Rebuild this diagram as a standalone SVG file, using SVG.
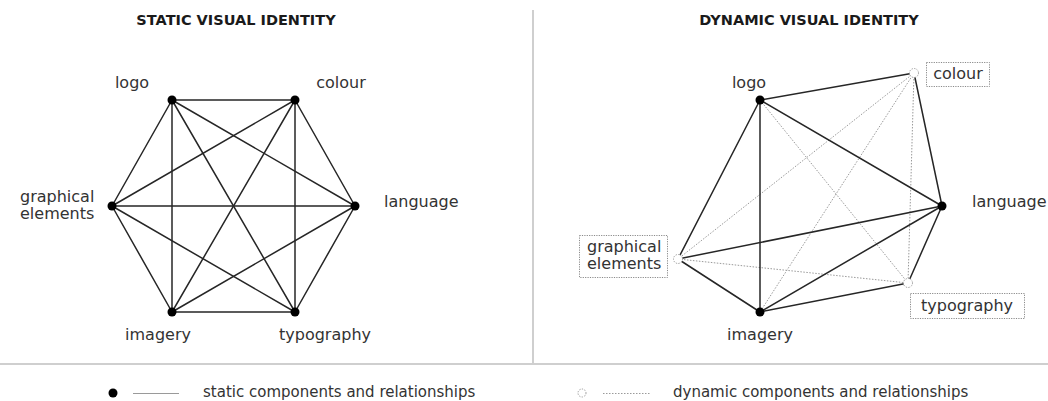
<svg xmlns="http://www.w3.org/2000/svg" width="1048" height="401" viewBox="0 0 1048 401">
  <style>
    .title { font-family: "DejaVu Sans", "Liberation Sans", sans-serif; font-weight: bold; font-size: 14.5px; fill: #1a1a1a; }
    .lbl { font-family: "DejaVu Sans", "Liberation Sans", sans-serif; font-size: 16px; fill: #333; }
    .leg { font-family: "DejaVu Sans", "Liberation Sans", sans-serif; font-size: 15px; fill: #333; }
    .rule { stroke: #cfcfcf; stroke-width: 2; fill: none; }
    .solid { stroke: #262626; stroke-width: 1.5; fill: none; stroke-linecap: round; }
    .dotted { stroke: #9a9a9a; stroke-width: 1; fill: none; stroke-dasharray: 1.5 1.5; }
    .dot { fill: #000; }
    .hollow { fill: #fff; stroke: #9a9a9a; stroke-width: 1; stroke-dasharray: 1.3 1.3; }
    .box { fill: #fff; stroke: #8a8a8a; stroke-width: 1; stroke-dasharray: 1.2 1.2; }
  </style>

  <rect width="1048" height="401" fill="#fff"/>

  <!-- frame rules -->
  <line class="rule" x1="533" y1="10" x2="533" y2="364"/>
  <line class="rule" x1="0" y1="364" x2="1048" y2="364"/>

  <!-- headings -->
  <text class="title" x="236" y="25" text-anchor="middle">STATIC VISUAL IDENTITY</text>
  <text class="title" x="809" y="25" text-anchor="middle">DYNAMIC VISUAL IDENTITY</text>

  <!-- static identity: every component linked to every other -->
  <g id="static-connectors">
    <line class="solid" x1="172" y1="100" x2="295" y2="100"/>
    <line class="solid" x1="172" y1="100" x2="112" y2="206"/>
    <line class="solid" x1="172" y1="100" x2="355" y2="206"/>
    <line class="solid" x1="172" y1="100" x2="172" y2="312"/>
    <line class="solid" x1="172" y1="100" x2="295" y2="312"/>
    <line class="solid" x1="295" y1="100" x2="112" y2="206"/>
    <line class="solid" x1="295" y1="100" x2="355" y2="206"/>
    <line class="solid" x1="295" y1="100" x2="172" y2="312"/>
    <line class="solid" x1="295" y1="100" x2="295" y2="312"/>
    <line class="solid" x1="112" y1="206" x2="355" y2="206"/>
    <line class="solid" x1="112" y1="206" x2="172" y2="312"/>
    <line class="solid" x1="112" y1="206" x2="295" y2="312"/>
    <line class="solid" x1="355" y1="206" x2="172" y2="312"/>
    <line class="solid" x1="355" y1="206" x2="295" y2="312"/>
    <line class="solid" x1="172" y1="312" x2="295" y2="312"/>
  </g>

  <g id="s-logo">
    <circle class="dot" cx="172" cy="100" r="4.5"/>
    <text class="lbl" x="132" y="88" text-anchor="middle">logo</text>
  </g>
  <g id="s-colour">
    <circle class="dot" cx="295" cy="100" r="4.5"/>
    <text class="lbl" x="341" y="88" text-anchor="middle">colour</text>
  </g>
  <g id="s-graphical">
    <circle class="dot" cx="112" cy="206" r="4.5"/>
    <text class="lbl" x="20" y="202">graphical</text>
    <text class="lbl" x="20" y="219">elements</text>
  </g>
  <g id="s-language">
    <circle class="dot" cx="355" cy="206" r="4.5"/>
    <text class="lbl" x="384" y="207">language</text>
  </g>
  <g id="s-imagery">
    <circle class="dot" cx="172" cy="312" r="4.5"/>
    <text class="lbl" x="158" y="340" text-anchor="middle">imagery</text>
  </g>
  <g id="s-typography">
    <circle class="dot" cx="295" cy="312" r="4.5"/>
    <text class="lbl" x="325" y="340" text-anchor="middle">typography</text>
  </g>

  <!-- dynamic identity: fixed links solid, changing links dotted -->
  <g id="dynamic-connectors">
    <line class="dotted" x1="914" y1="73" x2="678" y2="259"/>
    <line class="dotted" x1="914" y1="73" x2="760" y2="312"/>
    <line class="dotted" x1="914" y1="73" x2="908" y2="283"/>
    <line class="dotted" x1="760" y1="100" x2="908" y2="283"/>
    <line class="dotted" x1="678" y1="259" x2="908" y2="283"/>
    <line class="solid" x1="760" y1="100" x2="914" y2="73"/>
    <line class="solid" x1="760" y1="100" x2="942" y2="206"/>
    <line class="solid" x1="760" y1="100" x2="760" y2="312"/>
    <line class="solid" x1="760" y1="100" x2="678" y2="259"/>
    <line class="solid" x1="914" y1="73" x2="942" y2="206"/>
    <line class="solid" x1="942" y1="206" x2="760" y2="312"/>
    <line class="solid" x1="942" y1="206" x2="678" y2="259"/>
    <line class="solid" x1="942" y1="206" x2="908" y2="283"/>
    <line class="solid" x1="760" y1="312" x2="908" y2="283"/>
    <line class="solid" x1="760" y1="312" x2="678" y2="259"/>
  </g>

  <g id="d-logo">
    <circle class="dot" cx="760" cy="100" r="4.5"/>
    <text class="lbl" x="749" y="88" text-anchor="middle">logo</text>
  </g>
  <g id="d-colour">
    <circle class="hollow" cx="914" cy="73" r="4.5"/>
    <rect class="box" x="926.5" y="62.5" width="63" height="24"/>
    <text class="lbl" x="958" y="79" text-anchor="middle">colour</text>
  </g>
  <g id="d-language">
    <circle class="dot" cx="942" cy="206" r="4.5"/>
    <text class="lbl" x="972" y="207">language</text>
  </g>
  <g id="d-graphical">
    <circle class="hollow" cx="678" cy="259" r="4.5"/>
    <rect class="box" x="579.5" y="235.5" width="88" height="42"/>
    <text class="lbl" x="587" y="252">graphical</text>
    <text class="lbl" x="587" y="269">elements</text>
  </g>
  <g id="d-imagery">
    <circle class="dot" cx="760" cy="312" r="4.5"/>
    <text class="lbl" x="760" y="340" text-anchor="middle">imagery</text>
  </g>
  <g id="d-typography">
    <circle class="hollow" cx="908" cy="283" r="4.5"/>
    <rect class="box" x="910.5" y="293.5" width="114" height="25"/>
    <text class="lbl" x="967" y="311" text-anchor="middle">typography</text>
  </g>

  <!-- key -->
  <g id="legend-static">
    <circle class="dot" cx="113" cy="393" r="4.5"/>
    <line x1="133" y1="393.5" x2="179" y2="393.5" stroke="#9a9a9a" stroke-width="1"/>
    <text class="leg" x="203" y="397">static components and relationships</text>
  </g>
  <g id="legend-dynamic">
    <circle class="hollow" cx="582" cy="393" r="4"/>
    <line class="dotted" x1="603" y1="393.5" x2="650" y2="393.5" stroke="#c4c4c4"/>
    <text class="leg" x="673" y="397">dynamic components and relationships</text>
  </g>
</svg>
